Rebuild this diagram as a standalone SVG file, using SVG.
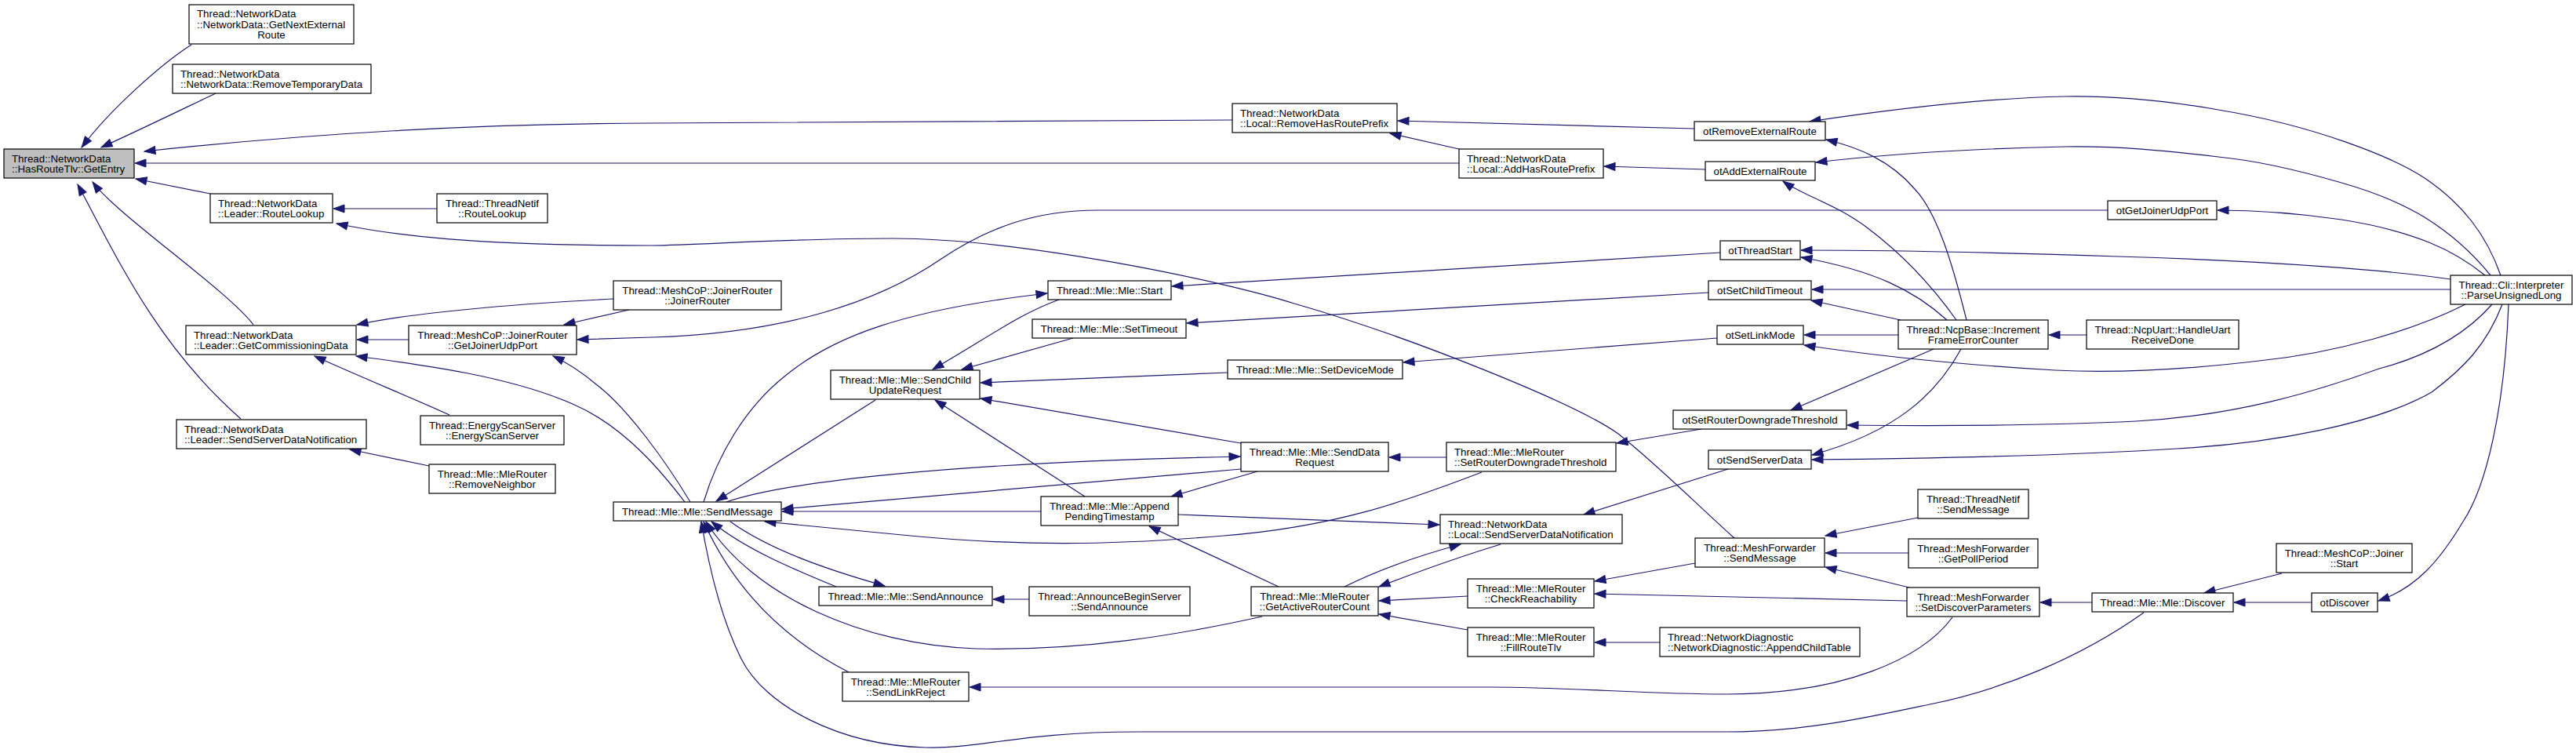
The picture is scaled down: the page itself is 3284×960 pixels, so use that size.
<svg xmlns="http://www.w3.org/2000/svg" width="3284" height="960" viewBox="0 0 3284 960">
<style>
.n rect{fill:#fff;stroke:#000;stroke-width:1.2}
.n.hl rect{fill:#bfbfbf}
text{font-family:"Liberation Sans",Arial,Helvetica,sans-serif;font-size:13.3px;fill:#000}
.c{text-anchor:middle}
#edges path{fill:none;stroke:#191970;stroke-width:1.2;marker-end:url(#ah)}
</style>
<defs>
<marker id="ah" markerUnits="userSpaceOnUse" markerWidth="16" markerHeight="12" refX="14" refY="5" orient="auto" overflow="visible">
<path d="M0,0 L14,5 L0,10 z" fill="#191970" stroke="#191970" stroke-width="1"/>
</marker>
</defs>
<rect width="3284" height="960" fill="#fff"/>
<g id="edges">
<path d="M244,57 C205,82 140,140 104,188"/>
<path d="M275,119 C235,138 190,160 129,188"/>
<path d="M1571,153 L830,157 C600,158 400,170 184,193"/>
<path d="M1860,208 L172,208"/>
<path d="M268,247 L173,228"/>
<path d="M323,414 C290,370 150,275 118,232"/>
<path d="M307,534 C200,440 150,330 99,235"/>
<path d="M557,266 L425,266"/>
<path d="M2211,686 C2160,640 2110,590 2063,553 C2010,515 1800,430 1650,387 C1560,358 1300,304 1138,304 C1000,304 900,312 830,313 C600,313 500,300 429,285"/>
<path d="M782,381 C650,388 530,398 455,414"/>
<path d="M521,433 L455,433"/>
<path d="M573,529 C520,505 470,485 401,454"/>
<path d="M873,640 C850,610 800,545 730,515 C650,480 540,465 454,454"/>
<path d="M880,640 C850,590 800,520 760,490 C740,473 722,462 705,454"/>
<path d="M802,395 L719,414"/>
<path d="M2687,268 L1400,268 C1320,268 1260,290 1200,330 C1120,385 1000,425 830,430 L736,433"/>
<path d="M2193,322 L1494,365"/>
<path d="M897,640 C915,580 950,520 1000,480 C1060,430 1150,395 1335,374"/>
<path d="M1350,382 C1300,400 1260,430 1189,471"/>
<path d="M1368,431 L1226,471"/>
<path d="M1565,475 L1250,488"/>
<path d="M2178,373 L1513,412"/>
<path d="M2189,431 L1789,462"/>
<path d="M1582,565 L1250,508"/>
<path d="M1383,633 L1192,510"/>
<path d="M1116,510 L913,639"/>
<path d="M926,640 C1000,615 1200,590 1581,582"/>
<path d="M1582,598 L997,649"/>
<path d="M1327,652 L997,652"/>
<path d="M1889,602 C1790,640 1700,672 1560,683 C1420,695 1300,697 1150,682 C1090,676 1030,670 975,665"/>
<path d="M1502,656 L1835,669"/>
<path d="M1603,601 L1493,633"/>
<path d="M1630,748 L1465,671"/>
<path d="M1609,786 C1500,810 1380,830 1244,827 C1100,822 960,760 900,665"/>
<path d="M931,665 C980,700 1050,725 1128,747"/>
<path d="M1066,748 C1010,725 950,700 907,665"/>
<path d="M1312,764 L1266,764"/>
<path d="M1082,857 C1010,820 940,760 897,665"/>
<path d="M2733,781 C2650,840 2550,880 2460,898 C2380,915 2300,933 2200,933 L1450,933 C1300,933 1250,955 1180,953 C1070,950 975,900 945,840 C920,790 905,730 894,665"/>
<path d="M2489,787 C2450,840 2350,885 2200,885 C2100,885 2000,876 1900,876 L1236,876"/>
<path d="M1714,748 C1760,725 1810,708 1862,694"/>
<path d="M1913,694 C1860,710 1810,728 1758,748"/>
<path d="M2203,598 L2019,656"/>
<path d="M2169,547 L2061,565"/>
<path d="M1844,583 L1771,583"/>
<path d="M1871,760 L1758,766"/>
<path d="M1871,803 L1758,783"/>
<path d="M2116,819 L2033,819"/>
<path d="M2161,718 L2033,741"/>
<path d="M2431,766 L2033,757"/>
<path d="M2445,660 L2327,683"/>
<path d="M2433,705 L2327,705"/>
<path d="M2434,749 L2327,723"/>
<path d="M2667,768 L2601,768"/>
<path d="M2909,731 L2810,756"/>
<path d="M2947,768 L2848,768"/>
<path d="M3198,388 C3193,520 3170,620 3140,665 C3110,715 3080,750 3032,766"/>
<path d="M3188,351 C3170,300 3140,260 3091,227 C3050,200 2950,160 2828,140 C2760,128 2700,122 2633,123 C2530,125 2420,138 2307,155"/>
<path d="M3175,351 C3150,320 3120,295 3091,277 C3060,258 3020,243 2985,233 C2930,217 2880,205 2828,200 C2760,192 2700,186 2633,187 C2530,189 2420,195 2315,207"/>
<path d="M3168,351 C3130,320 3080,295 2985,280 C2930,272 2880,268 2827,268"/>
<path d="M3124,356 C3050,345 2900,333 2700,327 C2550,322 2400,319 2296,319"/>
<path d="M3124,369 L2310,369"/>
<path d="M3143,388 C3080,420 2980,450 2880,460 C2780,472 2700,476 2620,472 C2500,465 2400,455 2300,440"/>
<path d="M3177,388 C3140,430 3090,455 3033,470 C2950,500 2850,530 2723,537 C2600,543 2450,543 2355,542"/>
<path d="M3190,388 C3170,440 3140,470 3100,500 C3030,540 2900,565 2775,572 C2650,580 2500,584 2310,586"/>
<path d="M2507,408 C2490,340 2470,270 2440,240 C2410,205 2370,188 2328,178"/>
<path d="M2494,408 C2460,360 2420,320 2380,290 C2340,260 2300,250 2273,231"/>
<path d="M2482,408 C2440,370 2390,345 2296,328"/>
<path d="M2423,408 L2309,383"/>
<path d="M2420,427 L2300,427"/>
<path d="M2465,445 L2283,523"/>
<path d="M2500,445 C2470,500 2420,550 2310,580"/>
<path d="M2660,427 L2612,427"/>
<path d="M2160,164 L1782,154"/>
<path d="M1860,190 L1772,170"/>
<path d="M2174,216 L2045,212"/>
<path d="M547,594 L446,573"/>
</g>
<g id="n0" class="n hl"><rect x="5" y="190" width="166" height="37"/><text x="15" y="206.5">Thread::NetworkData</text><text x="15" y="220">::HasRouteTlv::GetEntry</text></g>
<g id="n1" class="n"><rect x="241" y="6" width="210" height="50"/><text x="251" y="22">Thread::NetworkData</text><text x="251" y="35.5">::NetworkData::GetNextExternal</text><text class="c" x="346" y="49">Route</text></g>
<g id="n2" class="n"><rect x="220" y="82" width="253" height="37"/><text x="230" y="98.5">Thread::NetworkData</text><text x="230" y="112">::NetworkData::RemoveTemporaryData</text></g>
<g id="n3" class="n"><rect x="1571" y="132" width="210" height="37"/><text x="1581" y="148.5">Thread::NetworkData</text><text x="1581" y="162">::Local::RemoveHasRoutePrefix</text></g>
<g id="n4" class="n"><rect x="1860" y="190" width="184" height="37"/><text x="1870" y="206.5">Thread::NetworkData</text><text x="1870" y="220">::Local::AddHasRoutePrefix</text></g>
<g id="n5" class="n"><rect x="2160" y="155" width="167" height="24"/><text class="c" x="2243.5" y="171.5">otRemoveExternalRoute</text></g>
<g id="n6" class="n"><rect x="2174" y="206" width="140" height="24"/><text class="c" x="2244" y="222.5">otAddExternalRoute</text></g>
<g id="n7" class="n"><rect x="268" y="247" width="156" height="37"/><text x="278" y="263.5">Thread::NetworkData</text><text x="278" y="277">::Leader::RouteLookup</text></g>
<g id="n8" class="n"><rect x="557" y="247" width="141" height="37"/><text class="c" x="627.5" y="263.5">Thread::ThreadNetif</text><text class="c" x="627.5" y="277">::RouteLookup</text></g>
<g id="n9" class="n"><rect x="2687" y="256" width="139" height="24"/><text class="c" x="2756.5" y="272.5">otGetJoinerUdpPort</text></g>
<g id="n10" class="n"><rect x="2193" y="307" width="102" height="24"/><text class="c" x="2244" y="323.5">otThreadStart</text></g>
<g id="n11" class="n"><rect x="3124" y="351" width="155" height="37"/><text class="c" x="3201.5" y="367.5">Thread::Cli::Interpreter</text><text class="c" x="3201.5" y="381">::ParseUnsignedLong</text></g>
<g id="n12" class="n"><rect x="782" y="358" width="214" height="37"/><text class="c" x="889" y="374.5">Thread::MeshCoP::JoinerRouter</text><text class="c" x="889" y="388">::JoinerRouter</text></g>
<g id="n13" class="n"><rect x="1336" y="358" width="157" height="24"/><text class="c" x="1414.5" y="374.5">Thread::Mle::Mle::Start</text></g>
<g id="n14" class="n"><rect x="2178" y="358" width="131" height="24"/><text class="c" x="2243.5" y="374.5">otSetChildTimeout</text></g>
<g id="n15" class="n"><rect x="1316" y="407" width="196" height="24"/><text class="c" x="1414" y="423.5">Thread::Mle::Mle::SetTimeout</text></g>
<g id="n16" class="n"><rect x="2420" y="408" width="191" height="37"/><text class="c" x="2515.5" y="424.5">Thread::NcpBase::Increment</text><text class="c" x="2515.5" y="438">FrameErrorCounter</text></g>
<g id="n17" class="n"><rect x="2660" y="408" width="194" height="37"/><text class="c" x="2757" y="424.5">Thread::NcpUart::HandleUart</text><text class="c" x="2757" y="438">ReceiveDone</text></g>
<g id="n18" class="n"><rect x="2189" y="415" width="110" height="24"/><text class="c" x="2244" y="431.5">otSetLinkMode</text></g>
<g id="n19" class="n"><rect x="237" y="415" width="217" height="37"/><text x="247" y="431.5">Thread::NetworkData</text><text x="247" y="445">::Leader::GetCommissioningData</text></g>
<g id="n20" class="n"><rect x="521" y="415" width="214" height="37"/><text class="c" x="628" y="431.5">Thread::MeshCoP::JoinerRouter</text><text class="c" x="628" y="445">::GetJoinerUdpPort</text></g>
<g id="n21" class="n"><rect x="1565" y="459" width="223" height="24"/><text class="c" x="1676.5" y="475.5">Thread::Mle::Mle::SetDeviceMode</text></g>
<g id="n22" class="n"><rect x="1059" y="472" width="190" height="37"/><text class="c" x="1154" y="488.5">Thread::Mle::Mle::SendChild</text><text class="c" x="1154" y="502">UpdateRequest</text></g>
<g id="n23" class="n"><rect x="2133" y="523" width="221" height="24"/><text class="c" x="2243.5" y="539.5">otSetRouterDowngradeThreshold</text></g>
<g id="n24" class="n"><rect x="536" y="530" width="183" height="37"/><text class="c" x="627.5" y="546.5">Thread::EnergyScanServer</text><text class="c" x="627.5" y="560">::EnergyScanServer</text></g>
<g id="n25" class="n"><rect x="225" y="535" width="242" height="37"/><text x="235" y="551.5">Thread::NetworkData</text><text x="235" y="565">::Leader::SendServerDataNotification</text></g>
<g id="n26" class="n"><rect x="1582" y="564" width="188" height="37"/><text class="c" x="1676" y="580.5">Thread::Mle::Mle::SendData</text><text class="c" x="1676" y="594">Request</text></g>
<g id="n27" class="n"><rect x="1844" y="564" width="216" height="37"/><text x="1854" y="580.5">Thread::Mle::MleRouter</text><text x="1854" y="594">::SetRouterDowngradeThreshold</text></g>
<g id="n28" class="n"><rect x="2178" y="574" width="131" height="24"/><text class="c" x="2243.5" y="590.5">otSendServerData</text></g>
<g id="n29" class="n"><rect x="547" y="592" width="161" height="37"/><text class="c" x="627.5" y="608.5">Thread::Mle::MleRouter</text><text class="c" x="627.5" y="622">::RemoveNeighbor</text></g>
<g id="n30" class="n"><rect x="2445" y="624" width="141" height="37"/><text class="c" x="2515.5" y="640.5">Thread::ThreadNetif</text><text class="c" x="2515.5" y="654">::SendMessage</text></g>
<g id="n31" class="n"><rect x="1327" y="633" width="175" height="37"/><text class="c" x="1414.5" y="649.5">Thread::Mle::Mle::Append</text><text class="c" x="1414.5" y="663">PendingTimestamp</text></g>
<g id="n32" class="n"><rect x="782" y="640" width="214" height="24"/><text class="c" x="889" y="656.5">Thread::Mle::Mle::SendMessage</text></g>
<g id="n33" class="n"><rect x="1836" y="656" width="232" height="37"/><text x="1846" y="672.5">Thread::NetworkData</text><text x="1846" y="686">::Local::SendServerDataNotification</text></g>
<g id="n34" class="n"><rect x="2161" y="686" width="165" height="37"/><text class="c" x="2243.5" y="702.5">Thread::MeshForwarder</text><text class="c" x="2243.5" y="716">::SendMessage</text></g>
<g id="n35" class="n"><rect x="2433" y="687" width="165" height="37"/><text class="c" x="2515.5" y="703.5">Thread::MeshForwarder</text><text class="c" x="2515.5" y="717">::GetPollPeriod</text></g>
<g id="n36" class="n"><rect x="2902" y="693" width="173" height="37"/><text class="c" x="2988.5" y="709.5">Thread::MeshCoP::Joiner</text><text class="c" x="2988.5" y="723">::Start</text></g>
<g id="n37" class="n"><rect x="1871" y="738" width="161" height="37"/><text class="c" x="1951.5" y="754.5">Thread::Mle::MleRouter</text><text class="c" x="1951.5" y="768">::CheckReachability</text></g>
<g id="n38" class="n"><rect x="1044" y="748" width="221" height="24"/><text class="c" x="1154.5" y="764.5">Thread::Mle::Mle::SendAnnounce</text></g>
<g id="n39" class="n"><rect x="1312" y="748" width="205" height="37"/><text class="c" x="1414.5" y="764.5">Thread::AnnounceBeginServer</text><text class="c" x="1414.5" y="778">::SendAnnounce</text></g>
<g id="n40" class="n"><rect x="1595" y="748" width="162" height="37"/><text class="c" x="1676" y="764.5">Thread::Mle::MleRouter</text><text class="c" x="1676" y="778">::GetActiveRouterCount</text></g>
<g id="n41" class="n"><rect x="2431" y="749" width="169" height="37"/><text class="c" x="2515.5" y="765.5">Thread::MeshForwarder</text><text class="c" x="2515.5" y="779">::SetDiscoverParameters</text></g>
<g id="n42" class="n"><rect x="2667" y="756" width="180" height="24"/><text class="c" x="2757" y="772.5">Thread::Mle::Mle::Discover</text></g>
<g id="n43" class="n"><rect x="2947" y="756" width="84" height="24"/><text class="c" x="2989" y="772.5">otDiscover</text></g>
<g id="n44" class="n"><rect x="1871" y="800" width="161" height="37"/><text class="c" x="1951.5" y="816.5">Thread::Mle::MleRouter</text><text class="c" x="1951.5" y="830">::FillRouteTlv</text></g>
<g id="n45" class="n"><rect x="2116" y="800" width="255" height="37"/><text x="2126" y="816.5">Thread::NetworkDiagnostic</text><text x="2126" y="830">::NetworkDiagnostic::AppendChildTable</text></g>
<g id="n46" class="n"><rect x="1074" y="857" width="161" height="37"/><text class="c" x="1154.5" y="873.5">Thread::Mle::MleRouter</text><text class="c" x="1154.5" y="887">::SendLinkReject</text></g>
</svg>
